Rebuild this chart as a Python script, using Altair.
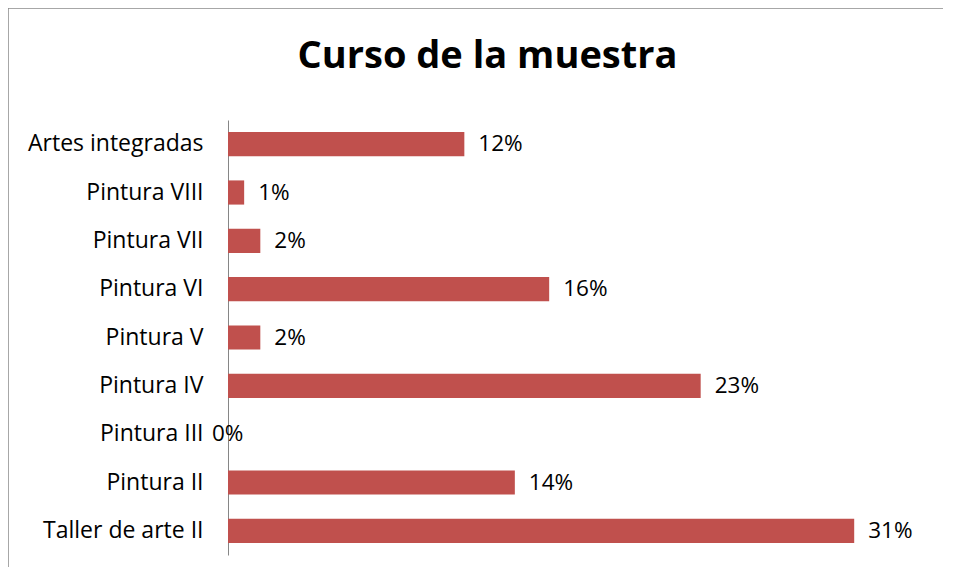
import altair as alt
import pandas as pd

cursos = ["Artes integradas", "Pintura VIII", "Pintura VII", "Pintura VI", "Pintura V",
          "Pintura IV", "Pintura III", "Pintura II", "Taller de arte II"]
porcentajes = [0.117, 0.008, 0.016, 0.159, 0.016, 0.234, 0.0, 0.142, 0.310]

df = pd.DataFrame({"curso": cursos, "pct": porcentajes})
frame_df = pd.DataFrame({"k": [0]})

FONT = "Open Sans"
BAR = "#C0504D"

y = alt.Y("curso:N", sort=cursos, title=None,
          scale=alt.Scale(paddingInner=0.5, paddingOuter=0.25),
          axis=alt.Axis(domainColor="#868686", domainWidth=1, ticks=False, tickSize=0,
                        labelPadding=25, labelFontSize=23, labelColor="black",
                        labelFont=FONT, labelLimit=400))
x = alt.X("pct:Q", scale=alt.Scale(domain=[0, 0.35], nice=False), axis=None)

bars = alt.Chart(df).mark_bar(color=BAR).encode(x=x, y=y)

labels = alt.Chart(df).transform_filter("datum.pct > 0").mark_text(
    align="left", baseline="middle", dx=14, fontSize=22.5, font=FONT, color="black"
).encode(x=x, y=y, text=alt.Text("pct:Q", format=".0%"))

zero = alt.Chart(df).transform_filter("datum.pct == 0").mark_text(
    align="left", baseline="middle", dx=-16, fontSize=22.5, font=FONT, color="black"
).encode(x=x, y=y, text=alt.Text("pct:Q", format=".0%"))

top_rule = alt.Chart(frame_df).mark_rule(color="#8a8a8a", strokeWidth=1.5).encode(
    x=alt.value(-220), x2=alt.value(800), y=alt.value(-112))
left_rule = alt.Chart(frame_df).mark_rule(color="#8a8a8a", strokeWidth=1.5).encode(
    x=alt.value(-220), y=alt.value(-112), y2=alt.value(500))

chart = alt.layer(top_rule, left_rule, bars, labels, zero).properties(
    width=707, height=435,
    title=alt.TitleParams("Curso de la muestra", font=FONT, fontSize=38, fontWeight="bold",
                          color="black", anchor="middle", dx=-94, dy=99, offset=0,
                          baseline="alphabetic"),
    autosize=alt.AutoSizeParams(type="none"),
    padding={"left": 220, "top": 112, "right": 8, "bottom": 12},
).configure_view(stroke=None)

chart.save("out.html", embed_options={"renderer": "svg", "actions": False})
